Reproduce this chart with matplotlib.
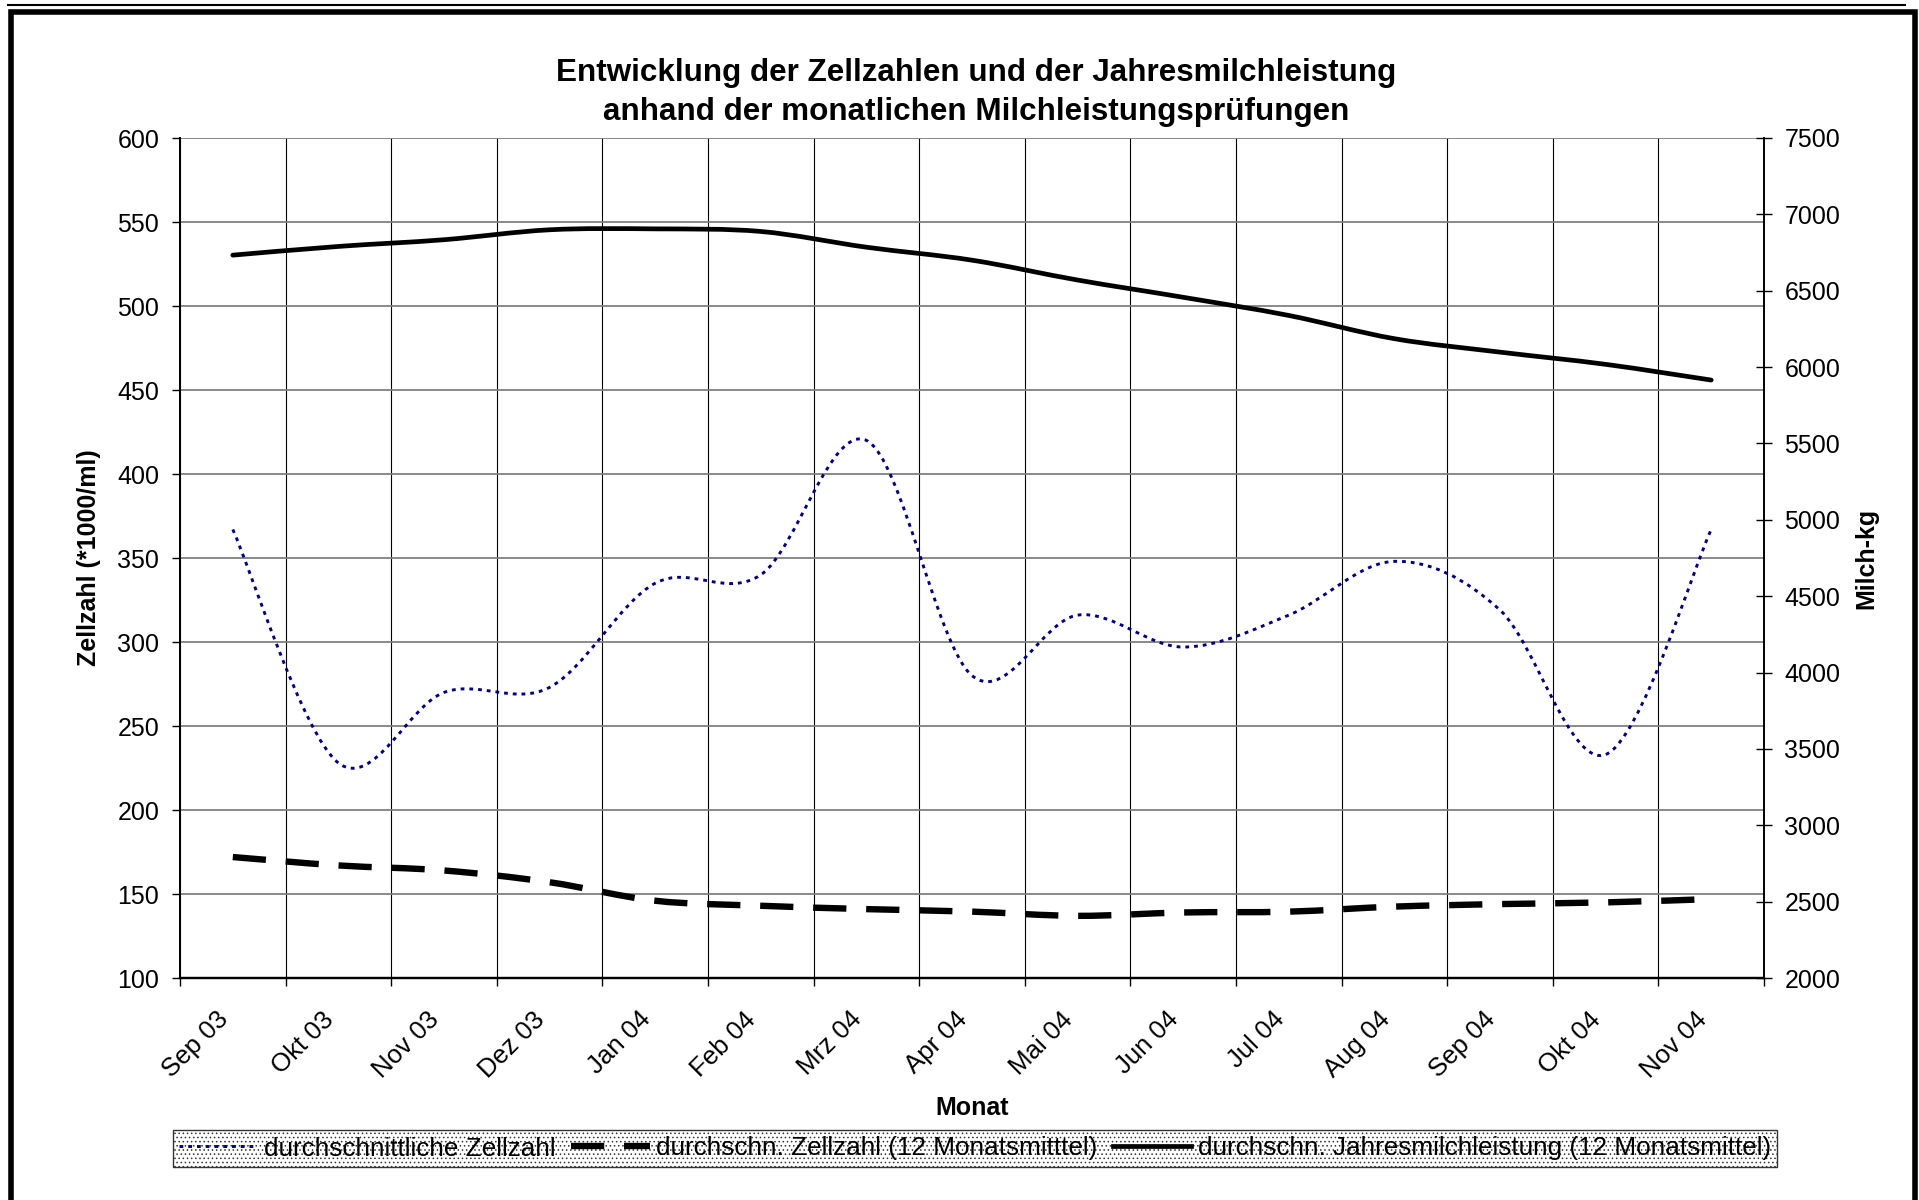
import numpy as np
import matplotlib
matplotlib.use("Agg")
import matplotlib.pyplot as plt
from matplotlib.path import Path
from matplotlib.patches import PathPatch, Rectangle
from matplotlib.lines import Line2D

# ======================================================
# DATA
# ======================================================
monate = ["Sep 03", "Okt 03", "Nov 03", "Dez 03", "Jan 04", "Feb 04", "Mrz 04",
          "Apr 04", "Mai 04", "Jun 04", "Jul 04", "Aug 04", "Sep 04", "Okt 04", "Nov 04"]

# durchschnittliche Zellzahl (*1000/ml), left axis
zellzahl = [367, 228, 270, 273, 335, 340, 420, 280, 316, 297, 316, 348, 319, 233, 367]

# durchschn. Zellzahl (12 Monatsmittel), left axis
zellzahl_12m = [172, 167, 164, 157, 146, 143, 141, 139.5, 137, 139, 139.5, 142.5, 144, 145, 147]

# durchschn. Jahresmilchleistung (12 Monatsmittel), right axis (kg)
milch_12m = [6733, 6790, 6834, 6899, 6905, 6888, 6785, 6700, 6570, 6457, 6338, 6186, 6098, 6018, 5915]

labels = ["durchschnittliche Zellzahl",
          "durchschn. Zellzahl (12 Monatsmitttel)",
          "durchschn. Jahresmilchleistung (12 Monatsmittel)"]

# ======================================================
# STYLE
# ======================================================
plt.rcParams["font.family"] = ["Liberation Sans", "DejaVu Sans"]
plt.rcParams["hatch.linewidth"] = 0.6
FS = 18


def smooth_path(x, y):
    """Excel-like smoothed line: cubic Bezier (Catmull-Rom) through the points."""
    pts = np.column_stack([x, y]).astype(float)
    n = len(pts)
    verts = [pts[0]]
    codes = [Path.MOVETO]
    for i in range(n - 1):
        p0 = pts[i - 1] if i > 0 else pts[i]
        p1 = pts[i]
        p2 = pts[i + 1]
        p3 = pts[i + 2] if i + 2 < n else pts[i + 1]
        verts += [p1 + (p2 - p0) / 6.0, p2 - (p3 - p1) / 6.0, p2]
        codes += [Path.CURVE4] * 3
    return Path(verts, codes)


x = np.arange(len(monate))

fig = plt.figure(figsize=(19.19, 12), dpi=100)
ax = fig.add_axes([180 / 1919, 1 - 978 / 1200, 1584 / 1919, 840 / 1200])
ax2 = ax.twinx()

# ---- lines
dot_style = dict(color="#000080", linewidth=2.1, linestyle=(0, (1.3, 1.7)))
dash_style = dict(color="black", linewidth=4.6, linestyle=(0, (5.2, 3.1)))
solid_style = dict(color="black", linewidth=3.4, linestyle="-")

ax.add_patch(PathPatch(smooth_path(x, zellzahl), fill=False, capstyle="butt", zorder=3, **dot_style))
ax.add_patch(PathPatch(smooth_path(x, zellzahl_12m), fill=False, capstyle="butt", zorder=3, **dash_style))
ax2.add_patch(PathPatch(smooth_path(x, milch_12m), fill=False, capstyle="round", zorder=3, **solid_style))

# ---- axes
ax.set_xlim(-0.5, len(monate) - 0.5)
ax.set_ylim(100, 600)
ax.set_yticks(np.arange(100, 601, 50))
ax2.set_ylim(2000, 7500)
ax2.set_yticks(np.arange(2000, 7501, 500))

ax.set_xticks(x)
ax.set_xticklabels(monate, rotation=45, ha="right", va="top", fontsize=18.6)
ax.set_xticks(np.arange(-0.5, len(monate), 1.0), minor=True)
ax.tick_params(axis="x", which="major", length=0, pad=21)
ax.tick_params(axis="x", which="minor", length=5.5, width=1, direction="out", color="black")
ax.tick_params(axis="y", which="major", length=6, width=1, direction="out", pad=9, labelsize=FS)
ax2.tick_params(axis="y", which="major", length=11.5, width=1, direction="inout", pad=9, labelsize=FS)

ax.grid(True, axis="y", color="#808080", linewidth=1.3, zorder=0)
ax.grid(True, axis="x", which="minor", color="black", linewidth=0.8, zorder=0)
ax.grid(False, axis="x", which="major")
ax.set_axisbelow(True)

for a in (ax, ax2):
    a.spines["top"].set_visible(False)
    a.spines["left"].set_linewidth(1.4)
    a.spines["right"].set_linewidth(1.4)
    a.spines["bottom"].set_linewidth(1.6)
ax.spines["right"].set_visible(False)

ax.set_ylabel("Zellzahl (*1000/ml)", fontsize=FS, fontweight="bold")
ax.yaxis.set_label_coords((89 - 180) / 1584, 0.5)
ax.yaxis.label.set_verticalalignment("center")
ax2.set_ylabel("Milch-kg", fontsize=FS, fontweight="bold", rotation=90)
ax2.yaxis.set_label_coords((1866 - 180) / 1584, 0.5)
ax2.yaxis.label.set_verticalalignment("center")
ax.set_xlabel("Monat", fontsize=FS, fontweight="bold")
ax.xaxis.set_label_coords(0.5, (978 - 1108) / 840)
ax.xaxis.label.set_verticalalignment("center")

# ---- title
fig.text(976 / 1919, 1 - 73 / 1200, "Entwicklung der Zellzahlen und der Jahresmilchleistung",
         ha="center", va="center", fontsize=22.6, fontweight="bold")
fig.text(976 / 1919, 1 - 112 / 1200, "anhand der monatlichen Milchleistungsprüfungen",
         ha="center", va="center", fontsize=22.6, fontweight="bold")

# ---- legend
handles = [Line2D([], [], **dot_style), Line2D([], [], **dash_style), Line2D([], [], **solid_style)]
leg = ax.legend(handles, labels, ncol=3, loc="center", fontsize=18.8,
                bbox_to_anchor=(975 / 1919, 1 - 1148.5 / 1200), bbox_transform=fig.transFigure,
                handlelength=3.0, handletextpad=0.25, columnspacing=0.6, borderpad=0.25,
                borderaxespad=0, frameon=True, fancybox=False, framealpha=1)
frame = leg.get_frame()
frame.set_edgecolor("#333333")
frame.set_linewidth(1.0)
frame.set_hatch("....")

# ---- outer border (double line at top, thick frame)
fig.add_artist(Line2D([8 / 1919, 1905 / 1919], [1 - 5 / 1200, 1 - 5 / 1200],
                      transform=fig.transFigure, color="black", linewidth=1.5))
fig.add_artist(Rectangle((10.8 / 1919, -0.05), (1915 - 10.8) / 1919, 1.05 - 12 / 1200,
                         transform=fig.transFigure, fill=False, edgecolor="black", linewidth=4))

fig.savefig("out.png", dpi=100)
